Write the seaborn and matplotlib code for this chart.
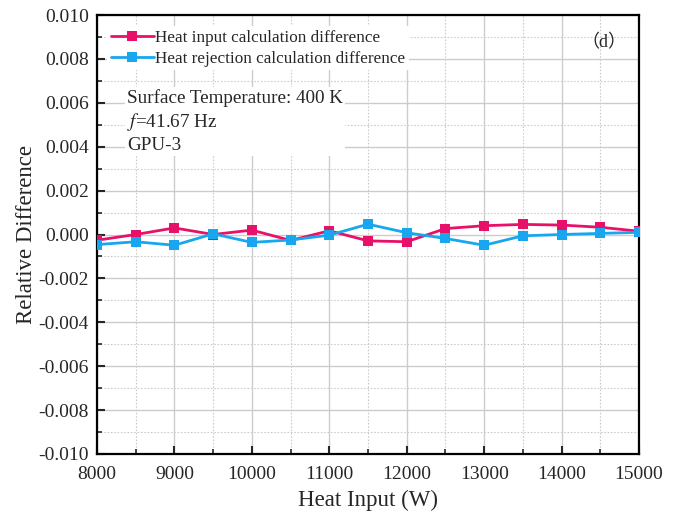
import numpy as np
import pandas as pd
import matplotlib
matplotlib.use("Agg")
import matplotlib.pyplot as plt
from matplotlib.lines import Line2D
from matplotlib.ticker import MultipleLocator, FormatStrFormatter
import seaborn as sns

# Data
heat_input = [8000, 8500, 9000, 9500, 10000, 10500, 11000, 11500,
              12000, 12500, 13000, 13500, 14000, 14500, 15000]
input_diff = [-0.00026, 0.0, 0.0003, 0.0, 0.0002, -0.00027, 0.00017, -0.00029,
              -0.00033, 0.00027, 0.0004, 0.00046, 0.00043, 0.00033, 0.00015]
rejection_diff = [-0.00046, -0.00033, -0.00049, 0.00003, -0.00036, -0.00025, -0.00003, 0.00047,
                  0.00008, -0.00018, -0.00049, -0.00006, 0.0, 0.00005, 0.0001]
series_names = ["Heat input calculation difference", "Heat rejection calculation difference"]
colors = ["#E8116A", "#18A6EE"]

df = pd.concat([
    pd.DataFrame({"x": heat_input, "y": input_diff, "series": series_names[0]}),
    pd.DataFrame({"x": heat_input, "y": rejection_diff, "series": series_names[1]}),
])

sns.set_style("white")
plt.rcParams["font.family"] = ["Liberation Serif", "Noto Sans CJK SC"]
plt.rcParams["mathtext.fontset"] = "stix"

fig = plt.figure(figsize=(6.78, 5.21), dpi=100)
ax = fig.add_axes([0.1431, 0.1286, 0.7994, 0.8426])

sns.lineplot(data=df, x="x", y="y", hue="series", style="series",
             palette=dict(zip(series_names, colors)),
             markers={n: "s" for n in series_names}, dashes=False,
             linewidth=2.0, markersize=6.5, markeredgewidth=0, ax=ax, zorder=3,
             legend=False)

ax.set_xlim(8000, 15000)
ax.set_ylim(-0.010, 0.010)
ax.xaxis.set_major_locator(MultipleLocator(1000))
ax.xaxis.set_minor_locator(MultipleLocator(500))
ax.yaxis.set_major_locator(MultipleLocator(0.002))
ax.yaxis.set_minor_locator(MultipleLocator(0.001))
ax.yaxis.set_major_formatter(FormatStrFormatter("%.3f"))

ax.grid(which="major", color="#cccccc", linewidth=1.0, linestyle="-")
ax.grid(which="minor", color="#cccccc", linewidth=0.8, linestyle=(0, (1.5, 1.5)))
ax.set_axisbelow(True)

for s in ax.spines.values():
    s.set_color("black")
    s.set_linewidth(1.6)

ax.tick_params(axis="both", which="major", direction="in", length=6, width=1.5,
               labelsize=14, pad=6, top=False, right=False, left=True, bottom=True)
ax.tick_params(axis="x", which="major", pad=8.5)
ax.tick_params(axis="both", which="minor", direction="in", length=3.5, width=1.2,
               top=False, right=False, left=True, bottom=True)

ax.set_xlabel("Heat Input (W)", fontsize=16.5, labelpad=5)
ax.set_ylabel("Relative Difference", fontsize=16.5, labelpad=1)

handles = [Line2D([], [], color=c, linewidth=2.0, marker="s", markersize=6.5,
                  markeredgewidth=0) for c in colors]
leg = ax.legend(handles, series_names, loc="upper left", bbox_to_anchor=(0.013, 0.982),
                fontsize=12.3, frameon=True, framealpha=1.0, edgecolor="none",
                handlelength=2.5, handletextpad=0.1, borderaxespad=0.2,
                labelspacing=0.3, fancybox=False, borderpad=0.2)

ax.text(0.055, 0.831, "Surface Temperature: 400 K\n$f$=41.67 Hz\nGPU-3",
        transform=ax.transAxes, fontsize=13.8, va="top", ha="left",
        linespacing=1.26,
        bbox=dict(facecolor="white", edgecolor="none", pad=1.5))
ax.text(0.935, 0.937, "（d）", transform=ax.transAxes, fontsize=13,
        ha="center", va="center")

fig.savefig("out.png", dpi=100)
